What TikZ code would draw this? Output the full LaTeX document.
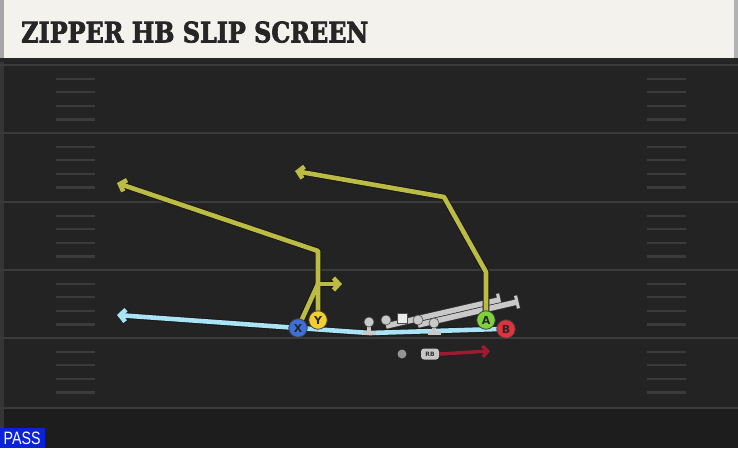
\documentclass[tikz,border=0pt]{standalone}
\usepackage{fontspec}
\setmainfont{DejaVu Serif}
\newfontfamily\titlefont[FakeBold=2.5]{DejaVu Serif Bold}
\newfontfamily\passfont{Liberation Sans}
\newfontfamily\letterfont{DejaVu Sans}
\usetikzlibrary{arrows.meta,calc}
\definecolor{fieldbg}{HTML}{232323}
\definecolor{fielddark}{HTML}{1D1D1D}
\definecolor{yardc}{HTML}{3B3B3B}
\definecolor{titlebg}{HTML}{F4F2EC}
\definecolor{routey}{HTML}{BCBC45}
\definecolor{routeb}{HTML}{A8E4F6}
\definecolor{blockg}{HTML}{C9C9C9}
\definecolor{pX}{HTML}{3E6FD8}
\definecolor{pY}{HTML}{F2CF2C}
\definecolor{pA}{HTML}{7DD23A}
\definecolor{pB}{HTML}{E3313D}
\definecolor{redr}{HTML}{9C1B31}
\definecolor{passblue}{HTML}{0A22D8}
\tikzset{
  yard/.style={yardc, line width=2.6pt},
  hash/.style={yardc, line width=2.2pt},
  player/.style={circle, minimum size=18.5pt, inner sep=0pt, draw=black!75, line width=0.8pt, font=\letterfont\bfseries\fontsize{11}{11}\selectfont, text=black!85},
  outl/.style={black!90, line width=6.6pt, line join=round},
  yroute/.style={routey, line width=4.6pt, line join=round},
  broute/.style={routeb, line width=4.6pt, line join=round},
  tipA/.style={-{Straight Barb[length=5.5pt,width=12pt]}},
  gout/.style={black!80, line width=7pt},
  gblock/.style={blockg, line width=5.5pt},
  gcapout/.style={black!80, line width=4.5pt},
  gcap/.style={blockg, line width=3pt},
  lman/.style={circle, fill=blockg, draw=black!70, line width=0.6pt, minimum size=10pt, inner sep=0pt},
}
\begin{document}
\begin{tikzpicture}[x=1pt,y=-1pt]
\useasboundingbox (0,0) rectangle (738,448);
% field
\fill[fieldbg] (0,0) rectangle (738,448);
\fill[fielddark] (0,408) rectangle (738,448);
\fill[white!8!fieldbg] (0,60) rectangle (4,448);
\foreach \y in {65,133,202,270,338,408} \draw[yard] (0,\y) -- (738,\y);
\foreach \b in {65,133,202,270,338} {
  \foreach \k in {1,2,3,4} {
    \draw[hash] (56,\b+13.6*\k) -- (95,\b+13.6*\k);
    \draw[hash] (647,\b+13.6*\k) -- (686,\b+13.6*\k);
  }
}
% title bar
\fill[black!85] (0,56) rectangle (734,62);
\fill[titlebg] (0,0) rectangle (734,58);
\fill[black!35] (0,0) rectangle (4,58);
\fill[black!30] (734,0) -- (738,0) -- (738,58) -- (734,58) -- cycle;
\node[anchor=south west, inner sep=0pt, text=black!85] (title) at (21,43)
  {\resizebox{347pt}{21pt}{\titlefont ZIPPER HB SLIP SCREEN}};
% PASS tag
\fill[passblue] (0,428) rectangle (45,448);
\node[inner sep=0pt, text=white, anchor=south west] (pass) at (3.5,445)
  {\resizebox{37pt}{12.5pt}{\passfont PASS}};
% players positions
\coordinate (Xp) at (298,328);
\coordinate (Yp) at (318,320);
\coordinate (Ap) at (486,320);
\coordinate (Bp) at (506,329);
% route waypoints
\coordinate (b1) at (498,329);
\coordinate (b2) at (370,333);
\coordinate (b3) at (117,315);
\coordinate (y1) at (318,251);
\coordinate (y2) at (117,183);
\coordinate (x1) at (318,284);
\coordinate (x2) at (342,284);
\coordinate (a1) at (486,272);
\coordinate (a2) at (444,197);
\coordinate (a3) at (295,171);
% blue route
\draw[outl, tipA] (b1) -- (b2) -- (Xp) -- (b3);
\draw[broute, tipA] (b1) -- (b2) -- (Xp) -- (b3);
% linemen and blocks
\coordinate (g1s) at (386,326);
\coordinate (g1e) at (499,300);
\coordinate (g2s) at (418,325);
\coordinate (g2e) at (517,302);
\coordinate (c1a) at ($(g1e)!6.5pt!90:(g1s)$);
\coordinate (c1b) at ($(g1e)!6.5pt!-90:(g1s)$);
\coordinate (c2a) at ($(g2e)!6.5pt!90:(g2s)$);
\coordinate (c2b) at ($(g2e)!6.5pt!-90:(g2s)$);
\draw[gout] (g1s) -- (g1e);
\draw[gcapout] (c1a) -- (c1b);
\draw[gblock] (g1s) -- (g1e);
\draw[gcap] (c1a) -- (c1b);
\draw[gout] (g2s) -- (g2e);
\draw[gcapout] (c2a) -- (c2b);
\draw[gblock] (g2s) -- (g2e);
\draw[gcap] (c2a) -- (c2b);
\coordinate (t1) at (369,333);
\coordinate (t5) at (434,333);
\draw[blockg, line width=3.5pt] (369,322) -- (t1);
\draw[blockg, line width=3.5pt] ([xshift=-6.5pt]t1) -- ([xshift=6.5pt]t1);
\draw[blockg, line width=3.5pt] (434,323) -- (t5);
\draw[blockg, line width=3.5pt] ([xshift=-6.5pt]t5) -- ([xshift=6.5pt]t5);
\node[lman] (l1) at (369,322) {};
\node[lman] (l2) at (386,320) {};
\node[lman] (l4) at (418,320) {};
\node[lman] (l5) at (434,323) {};
\node[fill=white!92!black, draw=black!70, line width=0.6pt, minimum size=10pt, inner sep=0pt] (center) at (402,318) {};
% yellow routes
\draw[outl, tipA] (Yp) -- (y1) -- (y2);
\draw[outl] (Xp) -- (x1);
\draw[outl, tipA] (x1) -- (x2);
\draw[outl, tipA] (Ap) -- (a1) -- (a2) -- (a3);
\draw[yroute, tipA] (Yp) -- (y1) -- (y2);
\draw[yroute] (Xp) -- (x1);
\draw[yroute, tipA] (x1) -- (x2);
\draw[yroute, tipA] (Ap) -- (a1) -- (a2) -- (a3);
% RB
\node[circle, fill=black!42, minimum size=9pt, inner sep=0pt] (qb) at (402,354) {};
\node[rounded corners=3pt, fill=black!22, minimum width=18pt, minimum height=11pt, inner sep=0pt,
  font=\letterfont\bfseries\fontsize{6}{6}\selectfont, text=black!80] (rb) at (430,354) {RB};
\coordinate (r1) at (490,351);
\draw[redr, line width=3.5pt, -{Straight Barb[length=5pt,width=11pt]}] (rb.east) -- (r1);
% player circles
\node[player, fill=pX] (X) at (Xp) {X};
\node[player, fill=pY] (Y) at (Yp) {Y};
\node[player, fill=pA] (A) at (Ap) {A};
\node[player, fill=pB] (B) at (Bp) {B};
\end{tikzpicture}
\end{document}
